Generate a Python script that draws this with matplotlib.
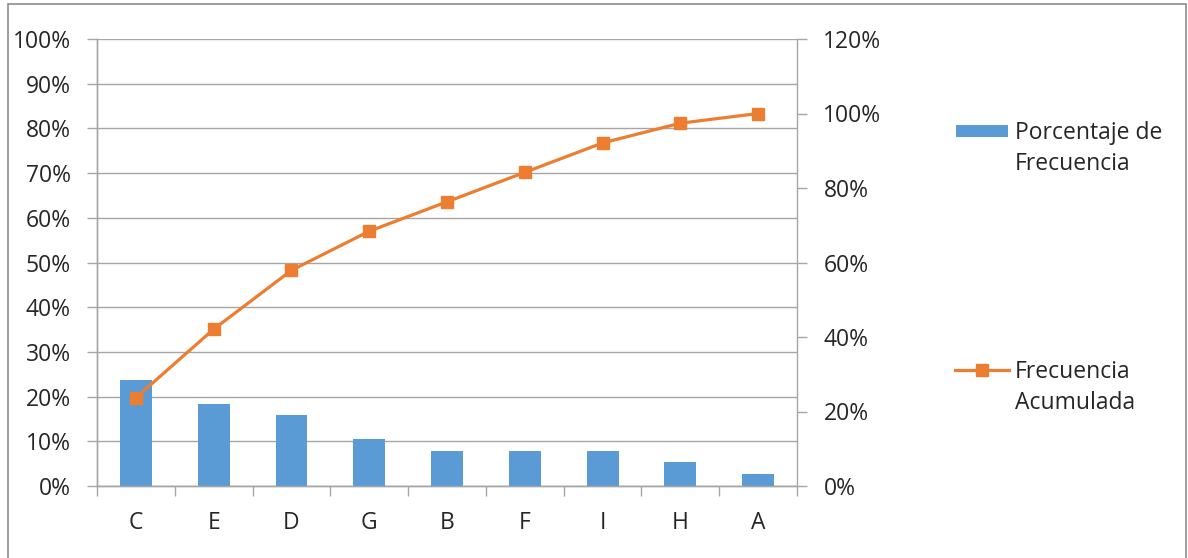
import matplotlib.pyplot as plt
from matplotlib.patches import Rectangle
from matplotlib.lines import Line2D
from matplotlib.ticker import FixedLocator, PercentFormatter

categorias = ['C', 'E', 'D', 'G', 'B', 'F', 'I', 'H', 'A']
porcentaje = [23.7, 18.4, 15.8, 10.5, 7.9, 7.9, 7.9, 5.3, 2.6]  # % de frecuencia
acumulada = [23.7, 42.1, 57.9, 68.4, 76.3, 84.2, 92.1, 97.4, 100.0]  # % acumulado

AZUL = '#5B9BD5'
NARANJA = '#ED7D31'
GRIS = '#A6A6A6'
TEXTO = '#262626'
W, H = 1188, 558  # tamano en pixeles

plt.rcParams['font.family'] = ['Open Sans', 'DejaVu Sans']
plt.rcParams['font.size'] = 16.5


def px(x, y):
    # pixeles (origen arriba a la izquierda) -> fraccion de figura
    return x / W, 1 - y / H


def main():
    fig = plt.figure(figsize=(W / 100, H / 100), dpi=100)
    ax = fig.add_axes([97 / W, 1 - 486 / H, 700 / W, 447 / H])
    ax2 = ax.twinx()

    x = list(range(len(categorias)))
    ax.bar(x, porcentaje, width=0.41, color=AZUL, zorder=3)
    ax.set_xlim(-0.5, len(categorias) - 0.5)
    ax.set_ylim(0, 100)
    ax.set_yticks(range(0, 101, 10))
    ax.yaxis.set_major_formatter(PercentFormatter(decimals=0))
    ax.grid(axis='y', color=GRIS, linewidth=1, zorder=0)
    ax.set_axisbelow(True)

    # etiquetas en el centro, marcas entre categorias
    ax.set_xticks(x)
    ax.set_xticklabels(categorias)
    ax.xaxis.set_minor_locator(FixedLocator([i - 0.5 for i in range(len(categorias) + 1)]))
    ax.tick_params(axis='x', which='major', length=0, pad=18, colors=TEXTO)
    ax.tick_params(axis='x', which='minor', length=7, color=GRIS, width=1)
    ax.tick_params(axis='y', length=7, color=GRIS, width=1, pad=12, labelcolor=TEXTO)

    ax2.plot(x, acumulada, color=NARANJA, linewidth=2.3, marker='s',
             markersize=8.5, zorder=4)
    ax2.set_ylim(0, 120)
    ax2.set_yticks(range(0, 121, 20))
    ax2.yaxis.set_major_formatter(PercentFormatter(decimals=0))
    ax2.tick_params(axis='y', length=7, color=GRIS, width=1, pad=12, labelcolor=TEXTO)

    for a in (ax, ax2):
        a.spines['top'].set_visible(False)
        for s in ('left', 'right', 'bottom'):
            a.spines[s].set_color(GRIS)
            a.spines[s].set_linewidth(1)
    ax.spines['right'].set_visible(False)

    # leyenda: simbolo alineado con la primera linea del texto
    x0, y0 = px(956, 137)
    x1, y1 = px(1008, 125)
    fig.patches.append(Rectangle((x0, y0), x1 - x0, y1 - y0, transform=fig.transFigure,
                                 facecolor=AZUL, edgecolor='none'))
    fig.text(*px(1015, 121), 'Porcentaje de\nFrecuencia', va='top', ha='left',
             color=TEXTO, linespacing=1.4)
    lx0, ly = px(955, 370)
    lx1, _ = px(1009, 370)
    fig.lines.append(Line2D([lx0, lx1], [ly, ly], transform=fig.transFigure,
                            color=NARANJA, linewidth=2.3))
    fig.lines.append(Line2D([(lx0 + lx1) / 2], [ly], transform=fig.transFigure,
                            color=NARANJA, marker='s', markersize=8.5))
    fig.text(*px(1015, 360), 'Frecuencia\nAcumulada', va='top', ha='left',
             color=TEXTO, linespacing=1.4)

    # marco del grafico
    fig.patches.append(Rectangle((8 / W, -0.02), 1178 / W, 1 - 4 / H + 0.02,
                                 transform=fig.transFigure, fill=False,
                                 edgecolor='#8C8C8C', linewidth=1.2))

    fig.savefig('out.png', dpi=100)


if __name__ == "__main__":
    main()
